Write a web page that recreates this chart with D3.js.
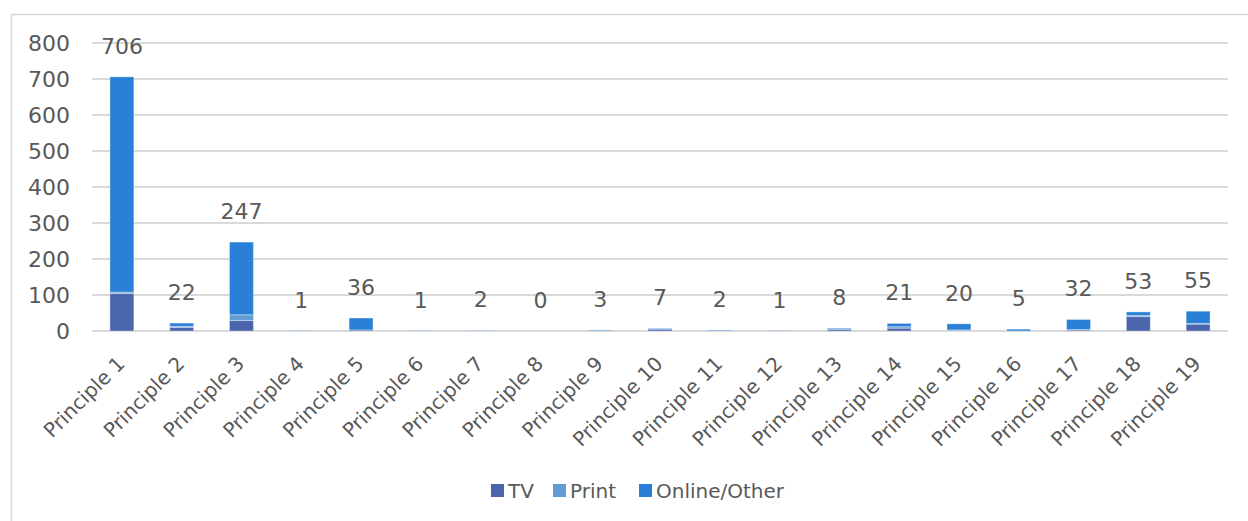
<!DOCTYPE html>
<html>
<head>
<meta charset="utf-8">
<script src="https://cdn.jsdelivr.net/npm/d3@7"></script>
<style>
  body { margin: 0; background: #fff; }
  svg text { font-family: "DejaVu Sans", sans-serif; fill: #595959; }
</style>
</head>
<body>
<svg id="chart" width="1248" height="521"></svg>
<script>
const categories = ["Principle 1", "Principle 2", "Principle 3", "Principle 4", "Principle 5",
  "Principle 6", "Principle 7", "Principle 8", "Principle 9", "Principle 10", "Principle 11",
  "Principle 12", "Principle 13", "Principle 14", "Principle 15", "Principle 16",
  "Principle 17", "Principle 18", "Principle 19"];
const seriesNames = ["TV", "Print", "Online/Other"];
const tv     = [104, 10, 29, 0, 3, 0, 1, 0, 0, 5, 0, 1, 5, 8, 2, 0, 3, 40, 19];
const print  = [4, 3, 16, 0, 0, 0, 0, 0, 3, 0, 0, 0, 1, 4, 1, 0, 1, 3, 2];
const online = [598, 9, 202, 1, 33, 1, 1, 0, 0, 2, 2, 0, 2, 9, 17, 5, 28, 10, 34];
const yTicks = [0, 100, 200, 300, 400, 500, 600, 700, 800];
const colors = ["#4a65ab", "#619cd2", "#2a7fd6"];

const rows = categories.map((c, i) => ({cat: c, "TV": tv[i], "Print": print[i], "Online/Other": online[i]}));
const totals = rows.map(r => r.TV + r.Print + r["Online/Other"]);

const svg = d3.select("#chart");
const margin = {top: 43, left: 92};
const innerW = 1228 - margin.left;
const innerH = 331 - margin.top;

// outer chart border
svg.append("rect").attr("x", 11.5).attr("y", 14.5).attr("width", 1240).attr("height", 520)
  .attr("fill", "none").attr("stroke", "#d9d9d9").attr("stroke-width", 1.5);

const g = svg.append("g").attr("transform", `translate(${margin.left},${margin.top})`);

const x = d3.scaleBand().domain(categories).range([0, innerW]).paddingInner(0.6).paddingOuter(0.3);
const y = d3.scaleLinear().domain([0, 800]).range([innerH, 0]);

// gridlines
g.selectAll(".grid").data(yTicks).enter().append("line")
  .attr("x1", 0).attr("x2", innerW)
  .attr("y1", d => y(d)).attr("y2", d => y(d))
  .attr("stroke", "#d9d9d9").attr("stroke-width", 2);

// y labels
g.selectAll(".ylab").data(yTicks).enter().append("text")
  .attr("x", -22).attr("y", d => y(d)).attr("dy", "0.36em")
  .attr("text-anchor", "end").attr("font-size", 22).text(d => d);

// stacked bars
const stack = d3.stack().keys(seriesNames)(rows);
g.selectAll(".layer").data(stack).enter().append("g")
  .attr("fill", (d, i) => colors[i])
  .selectAll("rect").data(d => d.map((v, i) => ({v, cat: categories[i]}))).enter().append("rect")
  .attr("x", d => x(d.cat)).attr("width", x.bandwidth())
  .attr("y", d => y(d.v[1])).attr("height", d => y(d.v[0]) - y(d.v[1]))
  .attr("stroke", "#ffffff").attr("stroke-opacity", 0.35).attr("stroke-width", 1);

// total labels
g.selectAll(".tot").data(categories).enter().append("text")
  .attr("x", d => x(d) + x.bandwidth() / 2)
  .attr("y", (d, i) => y(totals[i]) - 23)
  .attr("text-anchor", "middle").attr("font-size", 22)
  .text((d, i) => totals[i]);

// category labels
g.selectAll(".xlab").data(categories).enter().append("text")
  .attr("transform", d => `translate(${x(d) + x.bandwidth() / 2 + 4},${innerH + 34}) rotate(-45)`)
  .attr("text-anchor", "end").attr("font-size", 20)
  .text(d => d);

// legend
const legendItems = [{name: "TV", x: 491}, {name: "Print", x: 553}, {name: "Online/Other", x: 639}];
const lg = svg.append("g");
legendItems.forEach((it, i) => {
  lg.append("rect").attr("x", it.x).attr("y", 484).attr("width", 13).attr("height", 13).attr("fill", colors[i]);
  lg.append("text").attr("x", it.x + 17).attr("y", 491).attr("dy", "0.36em")
    .attr("font-size", 20).text(it.name);
});
</script>
</body>
</html>
